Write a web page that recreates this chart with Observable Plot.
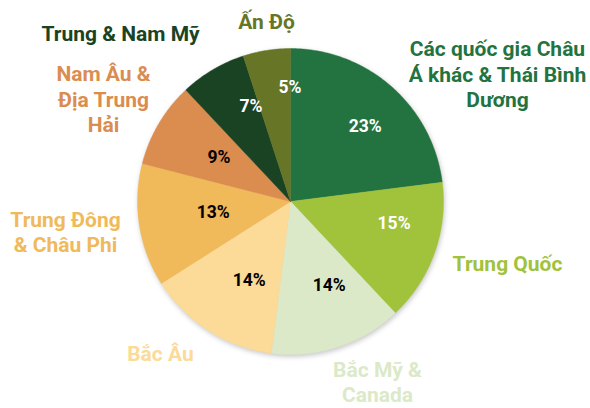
<!DOCTYPE html>
<html><head><meta charset="utf-8">
<script src="https://cdn.jsdelivr.net/npm/d3@7"></script>
<script src="https://cdn.jsdelivr.net/npm/@observablehq/plot@0.6"></script>
<style>
html,body{margin:0;padding:0;background:#fff;}
#chart svg{font-family:Roboto, "Noto Sans", sans-serif;}
#chart g[aria-label="line"]{filter:drop-shadow(1px 2px 2.5px rgba(0,0,0,0.22));}
</style></head><body><div id="chart"></div>
<script>
// ---- data ----
const regions = ["Các quốc gia Châu Á khác & Thái Bình Dương","Trung Quốc","Bắc Mỹ & Canada","Bắc Âu","Trung Đông & Châu Phi","Nam Âu & Địa Trung Hải","Trung & Nam Mỹ","Ấn Độ"];
const shares = [23,15,14,14,13,9,7,5];
const regionLabels = ["Các quốc gia Châu\nÁ khác & Thái Bình\nDương","Trung Quốc","Bắc Mỹ &\nCanada","Bắc Âu","Trung Đông\n& Châu Phi","Nam Âu &\nĐịa Trung\nHải","Trung & Nam Mỹ","Ấn Độ"];

// ---- styles / layout ----
const colors = ["#237340","#a1c23b","#dbe9c8","#fcda97","#f0b95a","#db8c4f","#1a4324","#667526"];
const pctInk = ["#ffffff","#ffffff","#000000","#000000","#000000","#000000","#ffffff","#ffffff"];
const W = 590, H = 408, CX = 290, CY = 201, R = 153;
const pctNudge = [[9,-1],[10,-12],[8,-11],[12,-5],[21,-5],[14,7],[11,-10],[15,-16]]; // px from mid-angle at 0.65r
const outerCenters = [[497,73],[507,262],[377,381],[160,352],[65,231],[103,98],[120,32],[266,20]]; // px

// ---- derived geometry ----
const total = d3.sum(shares);
let acc = 0;
const slices = regions.map((name, i) => {
  const a0 = acc / total * 2 * Math.PI;
  acc += shares[i];
  const a1 = acc / total * 2 * Math.PI;
  return {name, value: shares[i], a0, a1, mid: (a0 + a1) / 2, i};
});
const polyPts = [];
for (const s of slices) {
  polyPts.push({name: s.name, x: 0, y: 0});
  const n = Math.max(2, Math.ceil((s.a1 - s.a0) / (Math.PI / 360)));
  for (let k = 0; k <= n; k++) {
    const a = s.a0 + (s.a1 - s.a0) * k / n;
    polyPts.push({name: s.name, x: Math.sin(a), y: -Math.cos(a)});
  }
  polyPts.push({name: s.name, x: 0, y: 0});
}
const pctData = slices.map(s => ({
  name: s.name,
  text: s.value + "%",
  x: 0.65 * Math.sin(s.mid) + pctNudge[s.i][0] / R,
  y: -0.65 * Math.cos(s.mid) + pctNudge[s.i][1] / R,
  ink: pctInk[s.i]
}));
const outerData = slices.map(s => ({
  name: s.name,
  text: regionLabels[s.i],
  x: (outerCenters[s.i][0] - CX) / R,
  y: (outerCenters[s.i][1] - CY) / R
}));

const chart = Plot.plot({
  width: W, height: H,
  marginLeft: CX - R, marginRight: W - CX - R,
  marginTop: CY - R, marginBottom: H - CY - R,
  x: {domain: [-1, 1], axis: null},
  y: {domain: [-1, 1], reverse: true, axis: null},
  color: {domain: regions, range: colors},
  style: {background: "#fff", overflow: "visible"},
  marks: [
    Plot.line(polyPts, {x: "x", y: "y", z: "name", fill: "name", stroke: "name", strokeWidth: 0.4, curve: "linear"}),
    Plot.text(pctData, {x: "x", y: "y", text: "text", fill: "ink", fontSize: 17.5, fontWeight: "bold"}),
    Plot.text(outerData, {x: "x", y: "y", text: "text", fill: "name", fontSize: 21, fontWeight: "bold", lineHeight: 1.21})
  ]
});
document.getElementById("chart").appendChild(chart);
</script></body></html>
